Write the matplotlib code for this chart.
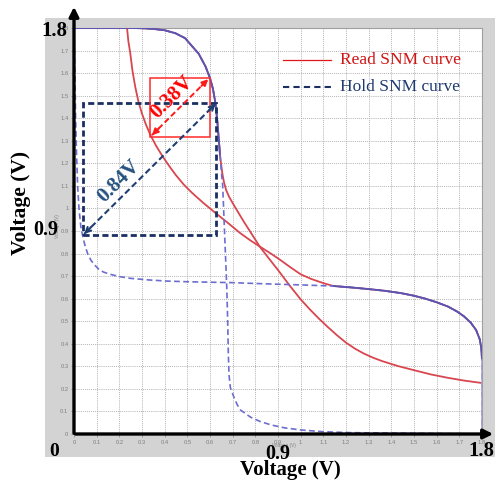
import numpy as np
import matplotlib
matplotlib.use("Agg")
import matplotlib.pyplot as plt
from matplotlib.patches import Rectangle, FancyArrowPatch

plt.rcParams['font.family'] = ['Liberation Serif', 'DejaVu Serif']

# ---------------- data ----------------
# Hold SNM: inverter 1 (y = f(x))
hold1_x = [0.0, 0.25, 0.30, 0.35, 0.40, 0.447, 0.49, 0.522, 0.55, 0.58, 0.60, 0.613, 0.624,
           0.632, 0.638, 0.644, 0.65, 0.656, 0.662, 0.668, 0.674, 0.678, 0.681, 0.684, 0.69,
           0.705, 0.72, 0.735, 0.76, 0.78, 0.82, 0.87, 0.93, 1.0, 1.1, 1.22, 1.5, 1.8]
hold1_y = [1.8, 1.8, 1.799, 1.796, 1.79, 1.777, 1.755, 1.718, 1.686, 1.63, 1.578, 1.53, 1.467,
           1.39, 1.317, 1.24, 1.165, 1.1, 0.95, 0.8, 0.65, 0.5, 0.35, 0.26, 0.205,
           0.165, 0.13, 0.106, 0.088, 0.074, 0.056, 0.04, 0.027, 0.018, 0.01, 0.006, 0.003, 0.0]

# Hold SNM: inverter 2 (mirrored, x = g(y))
hold2_x = [1.8, 1.8, 1.8, 1.797, 1.79, 1.774, 1.75, 1.72, 1.69, 1.65, 1.6, 1.55, 1.5, 1.44,
           1.37, 1.295, 1.22, 1.146, 1.0, 0.9, 0.78, 0.7, 0.6, 0.5, 0.41, 0.33, 0.25, 0.2,
           0.16, 0.13, 0.11, 0.09, 0.075, 0.062, 0.05, 0.04, 0.03, 0.022, 0.016, 0.011,
           0.007, 0.004, 0.0]
hold2_y = [0.0, 0.2, 0.33, 0.38, 0.42, 0.461, 0.494, 0.522, 0.543, 0.565, 0.584, 0.6, 0.613,
           0.625, 0.635, 0.643, 0.65, 0.656, 0.661, 0.664, 0.668, 0.671, 0.673, 0.675, 0.678,
           0.683, 0.69, 0.698, 0.708, 0.718, 0.73, 0.75, 0.77, 0.795, 0.83, 0.87, 0.92, 1.0,
           1.1, 1.25, 1.4, 1.6, 1.8]

# Read SNM: inverter 1 (y = f(x))
read1_x = [0.0, 0.25, 0.30, 0.35, 0.40, 0.447, 0.49, 0.522, 0.55, 0.58, 0.60, 0.613, 0.624,
           0.632, 0.638, 0.644, 0.649, 0.655, 0.662, 0.671, 0.684, 0.70, 0.72, 0.75, 0.78,
           0.82, 0.86, 0.9, 0.95, 1.0, 1.04, 1.08, 1.12, 1.16, 1.2, 1.24, 1.28, 1.32, 1.36,
           1.43, 1.5, 1.575, 1.65, 1.72, 1.8]
read1_y = [1.8, 1.8, 1.799, 1.796, 1.79, 1.777, 1.755, 1.718, 1.686, 1.63, 1.578, 1.53, 1.467,
           1.39, 1.317, 1.24, 1.195, 1.152, 1.115, 1.082, 1.052, 1.024, 0.99, 0.94, 0.893,
           0.83, 0.778, 0.727, 0.66, 0.597, 0.553, 0.512, 0.474, 0.438, 0.405, 0.378, 0.356,
           0.338, 0.323, 0.301, 0.283, 0.264, 0.249, 0.237, 0.226]

# Read SNM: inverter 2 (mirrored, x = g(y))
read2_x = [0.234, 0.24, 0.248, 0.258, 0.27, 0.284, 0.30, 0.318, 0.338, 0.362, 0.39, 0.42, 0.45,
           0.485, 0.522, 0.57, 0.624, 0.68, 0.734, 0.78, 0.823, 0.87, 0.911, 0.955, 1.0,
           1.045, 1.088, 1.12, 1.146, 1.22, 1.295, 1.37, 1.44, 1.5, 1.55, 1.6, 1.65, 1.69,
           1.72, 1.75, 1.774, 1.79, 1.797, 1.8]
read2_y = [1.8, 1.74, 1.69, 1.61, 1.54, 1.475, 1.42, 1.37, 1.324, 1.278, 1.232, 1.188, 1.147,
           1.105, 1.068, 1.025, 0.98, 0.935, 0.89, 0.857, 0.829, 0.799, 0.771, 0.739, 0.708,
           0.688, 0.673, 0.663, 0.656, 0.65, 0.643, 0.635, 0.625, 0.613, 0.6, 0.584, 0.565,
           0.543, 0.522, 0.494, 0.461, 0.42, 0.38, 0.33]

tick_values = [round(0.1 * i, 1) for i in range(19)]
tick_labels = ["0", "0.1", "0.2", "0.3", "0.4", "0.5", "0.6", "0.7", "0.8", "0.9", "1",
               "1.1", "1.2", "1.3", "1.4", "1.5", "1.6", "1.7", "1.8"]

read_snm = 0.38
hold_snm = 0.84
read_box = (0.336, 1.317, 0.262, 0.262)      # x, y, w, h
hold_box = (0.040, 0.882, 0.588, 0.585)

READ1_SHARED = 16   # first points of read1 coincide with hold1
READ2_SHARED = 28   # last points of read2 coincide with hold2

# ---------------- figure ----------------
W, H = 496, 484
fig = plt.figure(figsize=(W / 100, H / 100), dpi=100)
fig.patch.set_facecolor('white')

def fx(px):
    return px / W

def fy(py):
    return 1 - py / H

fig.patches.append(Rectangle((fx(45), fy(457)), fx(495) - fx(45), fy(18) - fy(457),
                             transform=fig.transFigure, facecolor='#d3d3d3',
                             edgecolor='none', zorder=-5))

ax = fig.add_axes([fx(74), fy(434), fx(482) - fx(74), fy(28) - fy(434)])
ax.set_facecolor('white')
ax.set_xlim(0, 1.8)
ax.set_ylim(0, 1.8)
ax.set_xticks(tick_values)
ax.set_yticks(tick_values)
ax.set_xticklabels(tick_labels, family='Liberation Sans')
ax.set_yticklabels(tick_labels, family='Liberation Sans')
ax.tick_params(labelsize=4.2, colors='#808080', length=2, width=0.5, pad=2)
ax.grid(True, color='#a6a6a6', linestyle=(0, (1, 1.3)), linewidth=0.65)
for s in ['top', 'right']:
    ax.spines[s].set_color('#a0a0a0')
    ax.spines[s].set_linewidth(0.8)
for s in ['left', 'bottom']:
    ax.spines[s].set_visible(False)

red_c = '#d8464f'
blue_c = '#6d6dd0'
purple_c = '#5a55b2'

ax.plot(read1_x, read1_y, color=red_c, lw=1.3, zorder=3)
ax.plot(read2_x, read2_y, color=red_c, lw=1.3, zorder=3)
ax.plot(hold1_x, hold1_y, color=blue_c, lw=1.2, ls=(0, (3.5, 2)), zorder=3)
ax.plot(hold2_x, hold2_y, color=blue_c, lw=1.2, ls=(0, (3.5, 2)), zorder=3)
ax.plot(read1_x[:READ1_SHARED], read1_y[:READ1_SHARED], color=purple_c, lw=1.3, zorder=4)
ax.plot(read2_x[READ2_SHARED:], read2_y[READ2_SHARED:], color=purple_c, lw=1.3, zorder=4)
ax.plot(hold2_x[:3], hold2_y[:3], color='#aaa5e2', lw=1.2, zorder=4)

ax.text((284 - 74) / 408, -0.029, 'Voltage (V)', transform=ax.transAxes, fontsize=3.4,
        color='#808080', family='Liberation Sans', ha='center', va='center')
fig.text(fx(58), fy(226), 'Voltage (V)', rotation=90, fontsize=3.4, color='#808080',
         family='Liberation Sans', ha='center', va='center')

# ---------------- annotations ----------------
navy = '#1b2f62'
ax.add_patch(Rectangle(hold_box[:2], hold_box[2], hold_box[3], fill=False, edgecolor=navy,
                       lw=2.0, ls=(0, (2.2, 1.2)), zorder=6))
ax.add_patch(Rectangle(read_box[:2], read_box[2], read_box[3], fill=False,
                       edgecolor='#ff2a2a', lw=1.1, zorder=6))

def diag_arrow(x0, y0, x1, y1, color, lw, head):
    ax.plot([x0, x1], [y0, y1], color=color, lw=lw, ls=(0, (3, 1.6)), zorder=7)
    d = 0.03
    for (xa, ya, xb, yb) in [(x0 + d, y0 + d, x0, y0), (x1 - d, y1 - d, x1, y1)]:
        ax.annotate('', xy=(xb, yb), xytext=(xa, ya),
                    arrowprops=dict(arrowstyle=head, color=color, lw=lw,
                                    mutation_scale=9, shrinkA=0, shrinkB=0), zorder=7)

diag_arrow(hold_box[0] + 0.005, hold_box[1] + 0.005,
           hold_box[0] + hold_box[2] - 0.003, hold_box[1] + hold_box[3] - 0.003,
           '#1f3f73', 1.5, '->')
diag_arrow(read_box[0] + 0.008, read_box[1] + 0.008,
           read_box[0] + read_box[2] - 0.006, read_box[1] + read_box[3] - 0.006,
           '#ff1a1a', 1.4, '-|>')

ax.text(0.433, 1.494, f'{read_snm:.2f}V', rotation=45, color='#ff0000', fontsize=15,
        fontweight='bold', ha='center', va='center', rotation_mode='anchor', zorder=8)
ax.text(0.200, 1.120, f'{hold_snm:.2f}V', rotation=45, color='#24507f', fontsize=15,
        fontweight='bold', ha='center', va='center', rotation_mode='anchor', zorder=8)

# legend (manual)
ax.plot([0.92, 1.133], [1.658, 1.658], color='#e01818', lw=0.9, zorder=8)
ax.text(1.172, 1.658, 'Read SNM curve', color='#d01515', fontsize=12.5, va='center',
        ha='left', zorder=8)
ax.plot([0.92, 1.133], [1.538, 1.538], color=navy, lw=1.5, ls=(0, (3, 2)), zorder=8)
ax.text(1.172, 1.538, 'Hold SNM curve', color='#1f3a70', fontsize=12.5, va='center',
        ha='left', zorder=8)

# ---------------- black arrow axes ----------------
fig.add_artist(FancyArrowPatch((fx(74), fy(436)), (fx(74), fy(4)),
                               transform=fig.transFigure, arrowstyle='-|>',
                               mutation_scale=14, lw=2.4, color='black', zorder=10))
fig.add_artist(FancyArrowPatch((fx(72.8), fy(434)), (fx(496), fy(434)),
                               transform=fig.transFigure, arrowstyle='-|>',
                               mutation_scale=14, lw=2.4, color='black', zorder=10))

bold = dict(fontweight='bold', color='black', ha='center', va='center')
fig.text(fx(54), fy(31), '1.8', fontsize=15, **bold)
fig.text(fx(46), fy(230), '0.9', fontsize=14.5, **bold)
fig.text(fx(54), fy(451), '0', fontsize=14, **bold)
fig.text(fx(278), fy(454), '0.9', fontsize=14.5, **bold)
fig.text(fx(481), fy(451), '1.8', fontsize=15, **bold)
fig.text(fx(290), fy(470), 'Voltage (V)', fontsize=15, **bold)
fig.text(fx(21), fy(203), 'Voltage (V)', fontsize=15.5, rotation=90, **bold)

fig.savefig('out.png', dpi=100)
